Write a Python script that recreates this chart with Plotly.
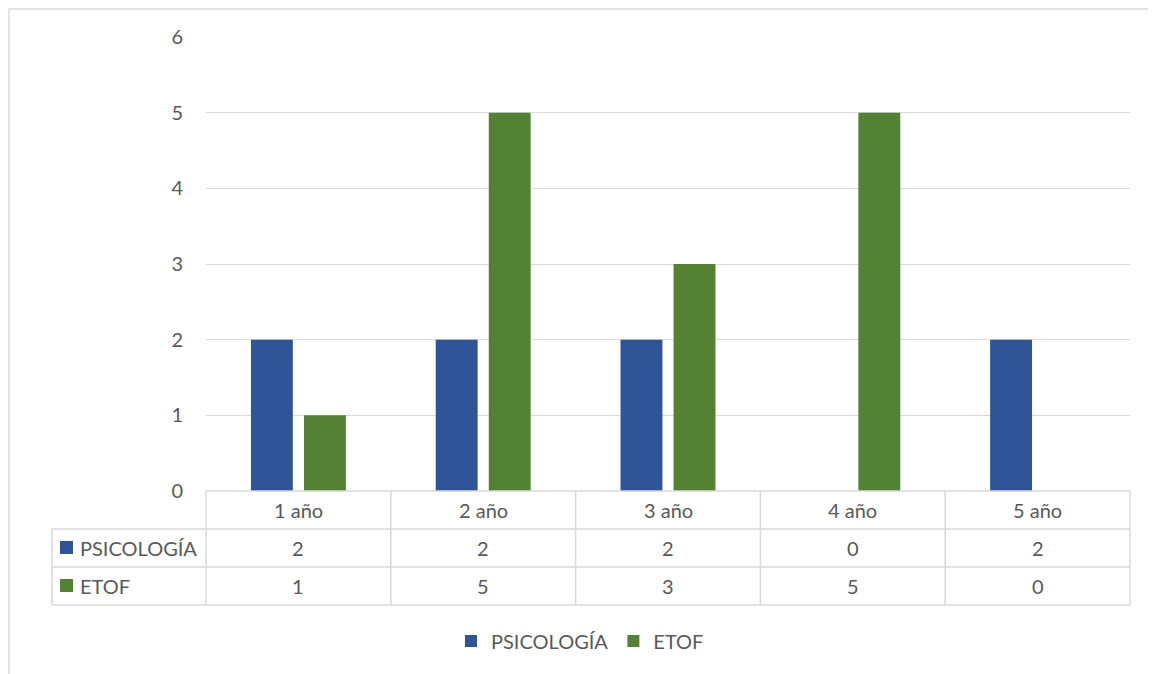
import plotly.graph_objects as go

categories = ["1 año", "2 año", "3 año", "4 año", "5 año"]
psicologia = [2, 2, 2, 0, 2]
etof = [1, 5, 3, 5, 0]
series_names = ["PSICOLOGÍA", "ETOF"]
colors = ["#2F5597", "#548235"]
y_ticks = [0, 1, 2, 3, 4, 5, 6]

OFF = 8  # page body margin
W, H = 1156, 674
L, R, T, B = 206 - OFF, 1130 - OFF, 37 - OFF, 491 - OFF
pw, ph = R - L, B - T

def px(xp):
    return (xp - OFF - L) / pw

def py(yp):
    return (B - (yp - OFF)) / ph

FONT = "Lato"
TXT = "#595959"
GRID = "#D9D9D9"
FS = 20

fig = go.Figure()
for name, vals, col in zip(series_names, [psicologia, etof], colors):
    fig.add_trace(go.Bar(x=categories, y=vals, name=name, marker_color=col,
                         marker_line_width=0))

shapes = []
# chart border (as close to the page edge as the figure allows)
shapes.append(dict(type="rect", xref="paper", yref="paper", x0=px(OFF + 1), x1=px(1300),
                   y0=py(OFF + 1), y1=py(800), line=dict(color=GRID, width=1.5)))
# table lines
row_y = [491, 529, 567, 605]
n = len(categories)
for i, yy in enumerate(row_y):
    x0 = 206 if i == 0 else 52
    shapes.append(dict(type="line", xref="paper", yref="paper", x0=px(x0), x1=1,
                       y0=py(yy), y1=py(yy), line=dict(color=GRID, width=1.5)))
for k in range(n + 1):
    shapes.append(dict(type="line", xref="paper", yref="paper", x0=k / n, x1=k / n,
                       y0=py(491), y1=py(605), line=dict(color=GRID, width=1.5)))
shapes.append(dict(type="line", xref="paper", yref="paper", x0=px(52), x1=px(52),
                   y0=py(529), y1=py(605), line=dict(color=GRID, width=1.5)))

tf = dict(family=FONT, size=FS, color=TXT)
annotations = []
for c in categories:
    annotations.append(dict(x=c, xref="x", y=py(510), yref="paper", text=c,
                            xanchor="center", yanchor="middle", showarrow=False, font=tf))
for r, (name, vals, col) in enumerate(zip(series_names, [psicologia, etof], colors)):
    yc = 548 + 38 * r
    for c, v in zip(categories, vals):
        annotations.append(dict(x=c, xref="x", y=py(yc), yref="paper", text=str(v),
                                xanchor="center", yanchor="middle", showarrow=False, font=tf))
    annotations.append(dict(x=px(78), xref="paper", xanchor="left", y=py(yc), yref="paper",
                            yanchor="middle", text=name, showarrow=False, font=tf))
    shapes.append(dict(type="rect", xref="paper", yref="paper", x0=px(60), x1=px(73),
                       y0=py(yc - 7), y1=py(yc + 6), fillcolor=col, line=dict(width=0)))

fig.update_layout(
    width=W, height=H,
    margin=dict(l=L, r=W - R, t=T, b=H - B, pad=0),
    paper_bgcolor="white", plot_bgcolor="white",
    barmode="group", bargap=0.426, bargroupgap=0.21,
    font=tf,
    xaxis=dict(showticklabels=False, showgrid=False, zeroline=False, showline=False,
               ticks="", range=[-0.5, n - 0.5]),
    yaxis=dict(range=[0, 6], tickvals=y_ticks, showgrid=True, gridcolor=GRID, gridwidth=1,
               zeroline=False, showline=False, ticks="", ticklabelstandoff=22,
               tickfont=tf),
    legend=dict(orientation="h", x=px(580), xanchor="center", y=py(641), yanchor="middle",
                font=tf, itemwidth=30, bgcolor="rgba(0,0,0,0)"),
    shapes=shapes, annotations=annotations,
)

fig.write_html("out.html")
